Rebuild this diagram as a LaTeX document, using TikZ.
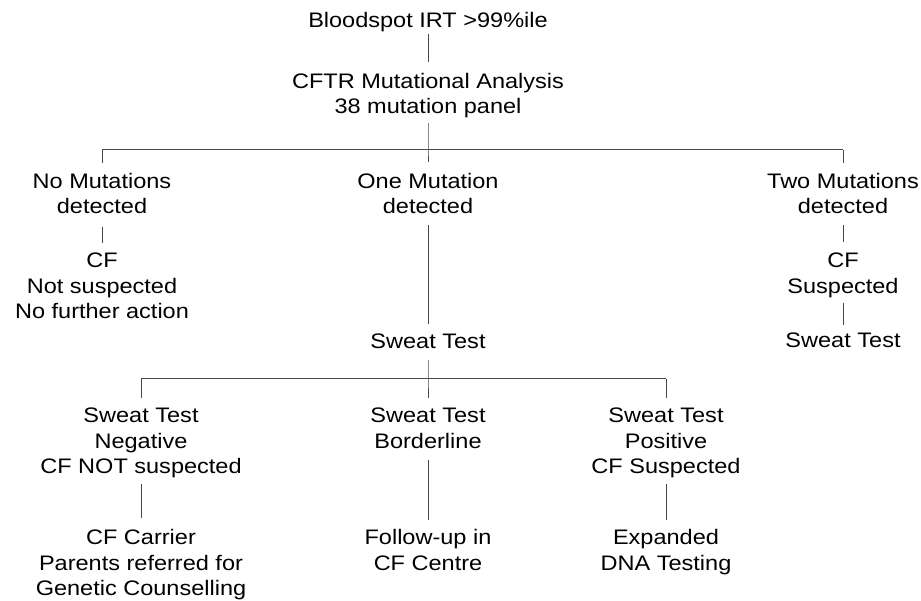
\documentclass[tikz,border=0pt]{standalone}
\usepackage{fontspec}
\setmainfont[FakeStretch=1.12]{Liberation Sans}
\begin{document}
\begin{tikzpicture}[x=1pt,y=-1pt,
  lbl/.style={align=center, inner sep=0pt, anchor=north, font=\fontsize{21}{25.5}\selectfont},
  conn/.style={draw=black!72, line width=1pt}]
\useasboundingbox (0,0) rectangle (921,601);
% nodes
\node[lbl] (title)   at (428,12)  {Bloodspot IRT >99\%ile};
\node[lbl] (cftr)    at (428,73)  {CFTR Mutational Analysis\\38 mutation panel};
\node[lbl] (nomut)   at (102,173) {No Mutations\\detected};
\node[lbl] (onemut)  at (428,173) {One Mutation\\detected};
\node[lbl] (twomut)  at (843,173) {Two Mutations\\detected};
\node[lbl] (cfnot)   at (102,253) {CF\\Not suspected\\No further action};
\node[lbl] (cfsus)   at (843,253) {CF\\Suspected};
\node[lbl] (sweatR)  at (843,333) {Sweat Test};
\node[lbl] (sweatC)  at (428,334) {Sweat Test};
\node[lbl] (neg)     at (141,408) {Sweat Test\\Negative\\CF NOT suspected};
\node[lbl] (bord)    at (428,408) {Sweat Test\\Borderline};
\node[lbl] (pos)     at (666,408) {Sweat Test\\Positive\\CF Suspected};
\node[lbl] (carrier) at (141,529.5) {CF Carrier\\Parents referred for\\Genetic Counselling};
\node[lbl] (follow)  at (428,529.5) {Follow-up in\\CF Centre};
\node[lbl] (dna)     at (666,529.5) {Expanded\\DNA Testing};
% bar coordinates
\coordinate (barL) at (102,150);
\coordinate (barC) at (428,150);
\coordinate (barR) at (843,150);
\coordinate (lbarL) at (141,379);
\coordinate (lbarC) at (428,379);
\coordinate (lbarR) at (666,379);
% connectors
\draw[conn] ([yshift=-1.6pt]title.south) -- ([yshift=11pt]cftr.north);
\draw[conn] ([yshift=-4.6pt]cftr.south) -- (barC) -- ([yshift=11pt]onemut.north);
\draw[conn] (barL) -- (barR);
\draw[conn] (barL) -- ([yshift=10pt]nomut.north);
\draw[conn] (barR) -- ([yshift=10pt]twomut.north);
\draw[conn] ([yshift=-12.5pt]nomut.south) -- ([yshift=10pt]cfnot.north);
\draw[conn] ([yshift=-10.5pt]onemut.south) -- ([yshift=10pt]sweatC.north);
\draw[conn] ([yshift=-10.5pt]twomut.south) -- ([yshift=11pt]cfsus.north);
\draw[conn] ([yshift=-4.6pt]cfsus.south) -- ([yshift=8pt]sweatR.north);
\draw[conn] ([yshift=-11pt]sweatC.south) -- (lbarC) -- ([yshift=10pt]bord.north);
\draw[conn] (lbarL) -- (lbarR);
\draw[conn] (lbarL) -- ([yshift=10pt]neg.north);
\draw[conn] (lbarR) -- ([yshift=10pt]pos.north);
\draw[conn] ([yshift=-5.6pt]neg.south) -- ([yshift=11.5pt]carrier.north);
\draw[conn] ([yshift=-11pt]bord.south) -- ([yshift=9.5pt]follow.north);
\draw[conn] ([yshift=-5.6pt]pos.south) -- ([yshift=9.5pt]dna.north);
\end{tikzpicture}
\end{document}
